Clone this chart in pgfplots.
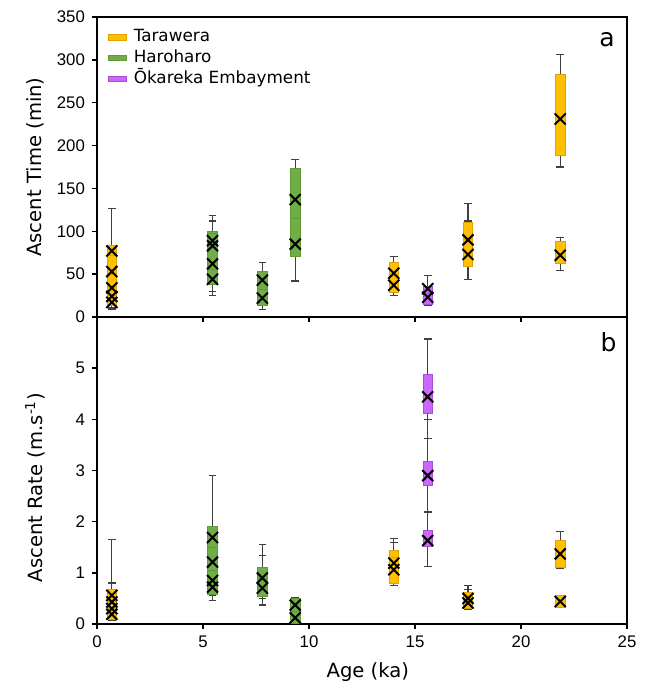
\documentclass[border=0pt]{standalone}
\usepackage{pgfplots}
\pgfplotsset{compat=1.18}
\usepgfplotslibrary{statistics}
\usepackage{fontspec}
\setmainfont{DejaVu Sans}
\newfontfamily\tickfont{Liberation Sans}
\definecolor{tara}{HTML}{FFC000}
\definecolor{taradark}{HTML}{E0A300}
\definecolor{haro}{HTML}{70AD47}
\definecolor{harodark}{HTML}{5E9A38}
\definecolor{okar}{HTML}{CC66FF}
\definecolor{okardark}{HTML}{A64FD6}
\definecolor{whisk}{HTML}{404040}

% \B{pos}{lower whisker}{q1}{mean}{q3}{upper whisker}{colour}
\newcommand\Bw[7]{\addplot[color=whisk, line width=0.6pt,
  boxplot/every box/.style={draw=none,fill=none},
  boxplot/every median/.style={draw=none},
  boxplot prepared={draw direction=y, draw position=#1, lower whisker=#2, lower quartile=#3,
    median=#4, upper quartile=#5, upper whisker=#6,
    box extend=0.45, whisker extend=0.36}] coordinates {};}
\newcommand\Bb[7]{\addplot[
  boxplot/every box/.style={fill=#7, draw=#7dark, line width=0.4pt},
  boxplot/every whisker/.style={draw=none},
  boxplot/every median/.style={draw=none},
  boxplot prepared={draw direction=y, draw position=#1, lower whisker=#3, lower quartile=#3,
    median=#4, upper quartile=#5, upper whisker=#5,
    box extend=0.45, whisker extend=0}] coordinates {};}
\newcommand\Bm[7]{\addplot[only marks, mark=x, mark size=3.9pt,
  mark options={line width=1pt, draw=black}] coordinates {(#1,#4)};}

\newcommand\topdata{%
 \B{0.7}{20}{45}{77}{84}{127}{tara}%
 \B{0.7}{15}{30}{53}{72}{82}{tara}%
 \B{0.7}{10}{20}{34}{50}{65}{tara}%
 \B{0.7}{9}{15}{24}{35}{45}{tara}%
 \B{0.7}{11}{14}{17}{25}{30}{tara}%
 \B{5.45}{55}{70}{89}{100}{118}{haro}%
 \B{5.45}{45}{60}{83}{97}{112}{haro}%
 \B{5.45}{30}{45}{62}{80}{95}{haro}%
 \B{5.45}{25}{38}{44}{55}{70}{haro}%
 \B{7.8}{20}{30}{43}{53.5}{64}{haro}%
 \B{7.8}{9}{14}{22}{32}{40}{haro}%
 \B{9.35}{95}{110}{137}{173}{184}{haro}%
 \B{9.35}{42}{71}{85}{115}{130}{haro}%
 \B{14}{35}{42}{51}{64}{71}{tara}%
 \B{14}{25}{29}{37}{47}{55}{tara}%
 \B{15.6}{20}{25}{33}{36}{48}{okar}%
 \B{15.6}{14}{15}{23}{28}{32}{okar}%
 \B{17.5}{60}{75}{90}{110}{132}{tara}%
 \B{17.5}{44}{58.5}{73}{90}{112}{tara}%
 \B{21.85}{175}{188}{231}{283}{306}{tara}%
 \B{21.85}{54}{62.5}{72}{88}{92.5}{tara}%
}
\newcommand\botdata{%
 \B{0.7}{0.25}{0.4}{0.56}{0.67}{1.65}{tara}%
 \B{0.7}{0.15}{0.3}{0.43}{0.6}{0.8}{tara}%
 \B{0.7}{0.1}{0.2}{0.3}{0.45}{0.55}{tara}%
 \B{0.7}{0.08}{0.09}{0.19}{0.3}{0.4}{tara}%
 \B{5.45}{1.0}{1.3}{1.69}{1.9}{2.9}{haro}%
 \B{5.45}{0.75}{0.9}{1.21}{1.5}{1.8}{haro}%
 \B{5.45}{0.55}{0.65}{0.85}{1.05}{1.25}{haro}%
 \B{5.45}{0.46}{0.57}{0.72}{0.85}{1.0}{haro}%
 \B{7.8}{0.5}{0.7}{0.9}{1.1}{1.56}{haro}%
 \B{7.8}{0.37}{0.53}{0.7}{0.9}{1.34}{haro}%
 \B{9.35}{0.15}{0.2}{0.37}{0.5}{0.52}{haro}%
 \B{9.35}{0.01}{0.02}{0.12}{0.25}{0.3}{haro}%
 \B{14}{0.85}{0.95}{1.19}{1.44}{1.67}{tara}%
 \B{14}{0.75}{0.8}{1.06}{1.3}{1.59}{tara}%
 \B{15.6}{3.62}{4.11}{4.44}{4.87}{5.57}{okar}%
 \B{15.6}{2.19}{2.7}{2.9}{3.18}{4.0}{okar}%
 \B{15.6}{1.13}{1.51}{1.63}{1.82}{2.19}{okar}%
 \B{17.5}{0.35}{0.42}{0.5}{0.62}{0.75}{tara}%
 \B{17.5}{0.28}{0.31}{0.41}{0.55}{0.68}{tara}%
 \B{21.85}{1.08}{1.11}{1.37}{1.63}{1.81}{tara}%
 \B{21.85}{0.32}{0.33}{0.44}{0.55}{0.56}{tara}%
}

\pgfplotsset{panel/.style={
  scale only axis, width=265pt,
  xmin=0, xmax=25, xtick={0,5,...,25},
  tick align=outside, tick pos=left,
  axis line style={line width=1pt},
  major tick style={line width=0.7pt, black},
  major tick length=2.5pt,
  tick label style={font=\tickfont\fontsize{8.4}{10}\selectfont},
  /pgf/number format/assume math mode=true,
  label style={font=\fontsize{9.8}{11}\selectfont},
}}

\begin{document}
\begin{tikzpicture}
\useasboundingbox (-48.5pt,-32.5pt) rectangle (275.5pt,312pt);
% bottom panel
\begin{axis}[panel, at={(0,0)}, anchor=south west, height=153.5pt,
  ymin=0, ymax=6, ytick={0,1,...,5},
  xlabel={Age (ka)},
  xlabel style={at={(axis description cs:0.511,0)}, anchor=center, yshift=-24pt},
  ylabel={Ascent Rate (m.s\textsuperscript{-1})},
  ylabel style={at={(axis description cs:-0.117,0.445)}, anchor=center},
]
\let\B\Bw \botdata
\let\B\Bb \botdata
\let\B\Bm \botdata
\node[anchor=base east, inner sep=0pt, font=\fontsize{12.5}{14}\selectfont]
  at ([xshift=-5pt,yshift=-17pt]rel axis cs:1,1) {b};
\end{axis}
% top panel
\begin{axis}[panel, at={(0,153.5pt)}, anchor=south west, height=150pt,
  ymin=0, ymax=350, ytick={0,50,...,350}, xticklabels={},
  ylabel={Ascent Time (min)},
  ylabel style={at={(axis description cs:-0.117,0.5)}, anchor=center},
  legend style={at={(rel axis cs:0,1)}, anchor=north west, xshift=5.5pt, yshift=-5pt,
    draw=none, fill=none, inner sep=0pt, row sep=0.3pt, column sep=2.5pt,
    font=\fontsize{8.4}{10}\selectfont,
    nodes={inner sep=0.8pt, text height=6.5pt, text depth=2pt}},
  legend cell align=left,
]
\addlegendimage{legend image code/.code={\draw[fill=tara, draw=taradark, line width=0.4pt] (0pt,-1.3pt) rectangle (9pt,1.3pt);}}
\addlegendentry{Tarawera}
\addlegendimage{legend image code/.code={\draw[fill=haro, draw=harodark, line width=0.4pt] (0pt,-1.3pt) rectangle (9pt,1.3pt);}}
\addlegendentry{Haroharo}
\addlegendimage{legend image code/.code={\draw[fill=okar, draw=okardark, line width=0.4pt] (0pt,-1.3pt) rectangle (9pt,1.3pt);}}
\addlegendentry{Ōkareka Embayment}
\let\B\Bw \topdata
\let\B\Bb \topdata
\let\B\Bm \topdata
\node[anchor=base east, inner sep=0pt, font=\fontsize{12.5}{14}\selectfont]
  at ([xshift=-6pt,yshift=-15pt]rel axis cs:1,1) {a};
\end{axis}
\end{tikzpicture}
\end{document}
